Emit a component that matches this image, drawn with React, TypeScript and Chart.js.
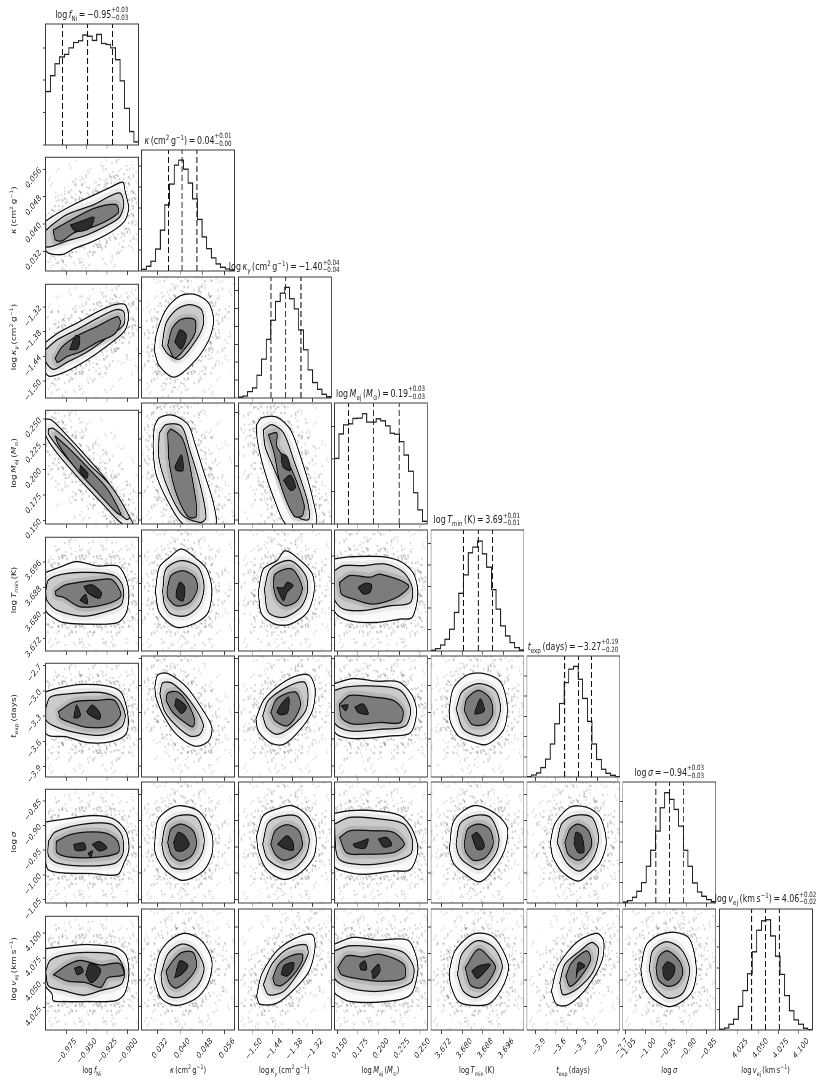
import React, { useEffect, useRef } from "react";
import { Chart, registerables } from "chart.js";
Chart.register(...registerables);

// horizontal squeeze of the whole figure
const SX = 0.7615;
const FONT = '"DejaVu Sans", sans-serif';

const axisMin = [-1.0003, 0.0263, -1.541, 0.1463, 3.6681, -4.022, -1.0567, 4.0026];
const axisMax = [-0.8863, 0.0595, -1.265, 0.2586, 3.7037, -2.671, -0.8267, 4.117];
const tickValues = [
  [-0.975, -0.95, -0.925, -0.9],
  [0.032, 0.04, 0.048, 0.056],
  [-1.5, -1.44, -1.38, -1.32],
  [0.15, 0.175, 0.2, 0.225, 0.25],
  [3.672, 3.68, 3.688, 3.696],
  [-3.9, -3.6, -3.3, -3.0, -2.7],
  [-1.05, -1.0, -0.95, -0.9, -0.85],
  [4.025, 4.05, 4.075, 4.1],
];
const tickDecimals = [3, 3, 2, 3, 3, 1, 2, 3];

// histogram counts per bin (20 bins each)
const histFNi = [1650, 2140, 2510, 2720, 2800, 3000, 3165, 3220, 3395, 3360, 3230, 3415, 3135, 3105, 3000, 2635, 1980, 1130, 415, 95];
const histKappa = [40, 112, 232, 521, 970, 1570, 2066, 2516, 2636, 2420, 2090, 1715, 1225, 810, 530, 312, 168, 88, 48, 24];
const histKappaG = [28, 56, 178, 281, 637, 1087, 1640, 2174, 2699, 2933, 3092, 2774, 2492, 1902, 1349, 787, 431, 243, 103, 37];
const histMej = [2016, 2771, 3050, 3082, 3247, 3257, 3392, 3133, 3133, 3236, 3174, 3019, 2792, 2761, 2533, 2120, 1623, 962, 434, 83];
const histTmin = [16, 55, 140, 273, 507, 897, 1342, 1771, 2285, 2418, 2558, 2262, 1950, 1427, 975, 585, 351, 195, 78, 23];
const histTexp = [8, 50, 100, 233, 441, 816, 1316, 1816, 2332, 2666, 2732, 2416, 1941, 1374, 816, 433, 191, 91, 42, 8];
const histSigma = [25, 58, 140, 289, 503, 908, 1303, 1774, 2351, 2723, 2558, 2310, 1898, 1303, 908, 495, 272, 165, 83, 33];
const histVej = [16, 49, 138, 260, 570, 952, 1359, 1888, 2409, 2637, 2662, 2271, 1783, 1343, 830, 464, 244, 138, 41, 8];
const hists = [histFNi, histKappa, histKappaG, histMej, histTmin, histTexp, histSigma, histVej];
const histTop = [3737, 2876, 3383, 3722, 2816, 2990, 2987, 2922];
const quantiles = [
  [-0.9796, -0.9488, -0.9184],
  [0.03588, 0.04073, 0.04606],
  [-1.444, -1.4, -1.355],
  [0.1635, 0.1934, 0.2246],
  [3.6805, 3.6862, 3.6917],
  [-3.473, -3.272, -3.083],
  [-0.975, -0.941, -0.9075],
  [4.0421, 4.059, 4.076],
];

// contour outlines, flat x,y lists: [outer, middle, inner, dense islands...]
const c10 = [
  [-1.0003,.0409,-.9866,.043,-.9659,.0457,-.941,.0485,-.9202,.0508,-.9057,.0522,-.9028,.0495,-.8986,.0448,-.9028,.0411,-.9161,.0383,-.941,.0351,-.9659,.0328,-.9804,.0311,-1.0003,.0323],
  [-1.0003,.0381,-.9928,.0397,-.9742,.0428,-.941,.0457,-.9202,.0483,-.9086,.049,-.9045,.0457,-.9098,.042,-.9244,.0397,-.9493,.0369,-.9742,.0351,-1.0003,.0334],
  [-.9908,.0383,-.97,.0411,-.941,.0446,-.914,.0457,-.9111,.0434,-.9244,.0411,-.941,.0393,-.9659,.0374,-.9804,.0351,-.9887,.0355],
  [-.97,.0397,-.9534,.0411,-.941,.042,-.946,.0388,-.9638,.0379],
];
const c20 = [
  [-1.0003,-1.4056,-.9845,-1.3823,-.9617,-1.359,-.9368,-1.3319,-.9161,-1.3148,-.9028,-1.3148,-.8986,-1.3435,-.9036,-1.3784,-.9244,-1.4134,-.9493,-1.4483,-.9742,-1.4754,-.9949,-1.4886,-1.0003,-1.4793],
  [-1.0003,-1.4235,-.9866,-1.4002,-.9617,-1.3746,-.9368,-1.3474,-.914,-1.3265,-.9045,-1.3319,-.9045,-1.3629,-.9244,-1.394,-.9493,-1.4289,-.9742,-1.4545,-.9908,-1.4716,-1.0003,-1.4522],
  [-.9887,-1.4444,-.9804,-1.4172,-.9617,-1.3901,-.9368,-1.3668,-.9119,-1.3435,-.9086,-1.359,-.9161,-1.3862,-.9368,-1.4056,-.9576,-1.4289,-.9742,-1.4405,-.9858,-1.4545],
  [-.9709,-1.4235,-.9638,-1.3901,-.9584,-1.394,-.9609,-1.4211],
];
const c30 = [
  [-1.0003,.2501,-.9928,.2488,-.9742,.2338,-.9493,.2119,-.9244,.1884,-.9119,.1712,-.8932,.1462,-.9057,.1462,-.9327,.1681,-.9617,.1931,-.9866,.2166,-1.0003,.2338],
  [-.997,.2401,-.9908,.2407,-.9721,.2275,-.9472,.2056,-.9202,.1837,-.8974,.153,-.9016,.1509,-.9285,.1712,-.9576,.1962,-.9845,.2213,-.997,.2354],
  [-.9887,.2332,-.9742,.2228,-.9493,.2025,-.9244,.1806,-.9078,.1556,-.914,.1581,-.9368,.1775,-.9617,.1994,-.9845,.2244],
  [-.9576,.2041,-.9484,.1962,-.9501,.1915,-.9584,.1987],
];
const c21 = [
  [.0308,-1.4328,.0316,-1.394,.035,-1.3396,.0399,-1.3086,.0453,-1.3047,.0502,-1.3241,.052,-1.3629,.0505,-1.4056,.0459,-1.4522,.0381,-1.4933,.0326,-1.4677],
  [.0336,-1.4211,.035,-1.3707,.0387,-1.3396,.0435,-1.328,.0477,-1.3396,.0483,-1.3746,.0453,-1.4134,.0399,-1.4522,.0356,-1.4405],
  [.0356,-1.4211,.0372,-1.3823,.0405,-1.3614,.0453,-1.3629,.0453,-1.394,.0417,-1.4289,.0381,-1.4498],
  [.0381,-1.4134,.0399,-1.3862,.0423,-1.3979,.0405,-1.4289],
];
const c31 = [
  [.0308,.2369,.0326,.2448,.0374,.2473,.0429,.2385,.0453,.2213,.0483,.1962,.052,.1649,.0526,.1455,.0417,.1455,.0362,.1649,.0314,.1931,.0304,.2182],
  [.0326,.2307,.035,.2385,.0405,.2369,.0435,.215,.0471,.1837,.0493,.1524,.0471,.1477,.0405,.1556,.035,.1837,.0324,.2088],
  [.0356,.2307,.0368,.2344,.0411,.2244,.0447,.1837,.0459,.154,.0429,.153,.0387,.1743,.0362,.2025],
  [.0381,.1994,.0405,.2103,.0411,.1962,.0387,.1962],
];
const c32 = [
  [-1.4869,.2385,-1.4719,.2448,-1.4266,.2454,-1.3864,.2338,-1.3563,.2088,-1.3211,.1712,-1.3111,.1455,-1.3965,.1455,-1.4367,.1712,-1.4668,.1994,-1.4849,.2244],
  [-1.4668,.2338,-1.4417,.2385,-1.4065,.2307,-1.3764,.2056,-1.3362,.1681,-1.3312,.1509,-1.3613,.1524,-1.4015,.1743,-1.4417,.2025,-1.4618,.2182],
  [-1.4518,.2291,-1.4266,.2307,-1.4266,.2182,-1.3864,.1994,-1.3462,.1649,-1.3513,.154,-1.3764,.154,-1.4166,.1837,-1.4347,.2119],
  [-1.4146,.2119,-1.3964,.2088,-1.3864,.1962,-1.4085,.1994],
  [-1.4065,.1869,-1.3864,.1915,-1.3713,.1806,-1.3864,.1775],
];
const c40 = [
  [-1.0003,3.6927,-.9825,3.6944,-.9626,3.6961,-.9368,3.6947,-.9119,3.6947,-.9016,3.6907,-.8982,3.6858,-.9016,3.68,-.9119,3.677,-.9451,3.6765,-.9783,3.677,-.9908,3.6785,-1.0003,3.6809],
  [-1.0003,3.6868,-.997,3.6903,-.9783,3.6922,-.9451,3.6927,-.9161,3.6917,-.9057,3.6883,-.9069,3.6829,-.9202,3.6809,-.9534,3.679,-.9866,3.6809,-.9988,3.6839],
  [-.9887,3.6868,-.9762,3.6888,-.9368,3.6903,-.9182,3.6903,-.9078,3.6854,-.9244,3.6829,-.9576,3.6819,-.9783,3.6849,-.9874,3.6855],
  [-.9534,3.6883,-.943,3.6888,-.9318,3.6863,-.9347,3.6846,-.9484,3.6863],
  [-.9584,3.684,-.9513,3.6858,-.9493,3.6829],
];
const c41 = [
  [.0312,3.6858,.0326,3.6927,.0362,3.6956,.0405,3.6981,.0459,3.6952,.0495,3.6922,.0514,3.6863,.0501,3.6795,.0459,3.6765,.0387,3.6751,.0326,3.6795],
  [.0338,3.6858,.035,3.6922,.0405,3.6947,.0465,3.6927,.0486,3.6873,.0471,3.6819,.0423,3.6785,.0368,3.679,.0344,3.6819],
  [.0354,3.6863,.0368,3.6903,.0411,3.6917,.0453,3.6898,.0462,3.6863,.0435,3.6824,.0387,3.6814,.0356,3.6839],
  [.0387,3.6858,.0399,3.6883,.0417,3.6868,.0411,3.6829,.0387,3.6839],
];
const c42 = [
  [-1.4819,3.6854,-1.4668,3.6922,-1.4266,3.6947,-1.4015,3.6976,-1.3563,3.6947,-1.3211,3.6907,-1.3161,3.6854,-1.3362,3.6795,-1.3864,3.676,-1.4317,3.676,-1.4719,3.679],
  [-1.4638,3.6863,-1.4467,3.6922,-1.3864,3.6947,-1.3412,3.6903,-1.3362,3.6854,-1.3563,3.6809,-1.4065,3.678,-1.4518,3.6795],
  [-1.4367,3.6868,-1.4317,3.6907,-1.3814,3.6922,-1.3513,3.6868,-1.3663,3.6829,-1.4015,3.6814,-1.4266,3.6834],
  [-1.4266,3.6868,-1.4065,3.6868,-1.3964,3.6883,-1.3784,3.6873,-1.3964,3.6854,-1.4065,3.6829,-1.4186,3.6849],
];
const c43 = [
  [.1465,3.6952,.1649,3.6958,.2057,3.6958,.2282,3.6942,.2424,3.6907,.2473,3.6849,.2404,3.678,.2261,3.6775,.1976,3.6765,.1649,3.677,.1465,3.68],
  [.1465,3.6917,.1568,3.6932,.1812,3.6932,.2078,3.6937,.2302,3.6912,.2404,3.6868,.2384,3.6824,.2139,3.6814,.1812,3.68,.1568,3.6805,.1465,3.6834],
  [.1527,3.6883,.1649,3.6903,.1894,3.6898,.2018,3.6907,.2363,3.6873,.222,3.6839,.1935,3.6819,.169,3.6834,.1547,3.6849],
  [.1751,3.6868,.1833,3.688,.1914,3.6876,.1894,3.6854,.1812,3.6849],
];
const c50 = [
  [-1.0003,-3.0097,-.9825,-2.9607,-.9576,-2.923,-.9244,-2.9419,-.9078,-3.0172,-.8995,-3.2812,-.9016,-3.5074,-.9202,-3.6016,-.9493,-3.6129,-.9742,-3.545,-1.0003,-3.4998],
  [-1.0003,-3.2057,-.9949,-3.0738,-.9742,-3.0361,-.9327,-3.0172,-.9119,-3.0927,-.9028,-3.2812,-.9078,-3.432,-.9327,-3.5262,-.9659,-3.4885,-.9908,-3.4131,-1.0003,-3.3377],
  [-.9845,-3.2434,-.9659,-3.1304,-.9368,-3.1115,-.9161,-3.1115,-.9086,-3.2812,-.9202,-3.4131,-.9493,-3.432,-.97,-3.3754,-.9825,-3.3188],
  [-.9659,-3.3188,-.9626,-3.168,-.9576,-3.2812,-.9609,-3.3188],
  [-.9501,-3.2434,-.943,-3.168,-.9327,-3.2812,-.9347,-3.3377,-.9472,-3.2812],
];
const c51 = [
  [.031,-3.0172,.032,-2.8853,.0356,-2.8665,.0423,-3.0172,.0483,-3.2812,.0514,-3.4696,.0502,-3.6204,.0453,-3.677,.0387,-3.545,.0338,-3.3188,.0314,-3.1304],
  [.0328,-3.0927,.0338,-2.9721,.0374,-2.9796,.0435,-3.1681,.0483,-3.432,.0471,-3.545,.0435,-3.5639,.0381,-3.432,.0344,-3.2812],
  [.035,-3.1681,.0356,-3.0851,.0393,-3.0738,.0429,-3.2057,.0453,-3.3943,.0445,-3.4621,.0417,-3.4131,.0374,-3.3],
  [.0381,-3.2246,.0387,-3.1492,.0423,-3.2434,.0405,-3.3113],
];
const c52 = [
  [-1.4889,-3.3754,-1.4668,-3.1681,-1.4266,-3.0172,-1.3764,-2.9042,-1.3312,-2.8853,-1.3131,-3.0361,-1.3211,-3.2812,-1.3563,-3.4885,-1.4065,-3.6582,-1.4467,-3.6393,-1.4819,-3.5074],
  [-1.4688,-3.3377,-1.4518,-3.1681,-1.3965,-3.0172,-1.3462,-2.9607,-1.3342,-3.0738,-1.3412,-3.2812,-1.3864,-3.4696,-1.4266,-3.545,-1.4568,-3.4696],
  [-1.4447,-3.3,-1.4266,-3.1492,-1.3714,-3.0738,-1.3563,-3.2057,-1.3714,-3.3565,-1.3965,-3.4508,-1.4317,-3.3943],
  [-1.4266,-3.3,-1.4166,-3.2246,-1.3915,-3.1304,-1.3945,-3.3,-1.4166,-3.3264],
];
const c53 = [
  [.1465,-2.9796,.169,-2.923,.1976,-2.9532,.2241,-2.9607,.2404,-3.1115,.2457,-3.3,.2384,-3.5262,.2139,-3.5639,.1731,-3.594,.1527,-3.5639,.1465,-3.5074],
  [.1465,-3.055,.1608,-3.0172,.1935,-3.006,.2261,-3.055,.2384,-3.2623,.2322,-3.4508,.2016,-3.4885,.1649,-3.5074,.1465,-3.4131],
  [.1527,-3.2058,.1649,-3.1115,.1935,-3.1304,.218,-3.168,.2294,-3.2812,.2261,-3.4131,.2016,-3.4131,.169,-3.432,.1547,-3.3566],
  [.171,-3.2434,.1812,-3.2057,.1873,-3.3188,.1751,-3.3],
  [.1547,-3.2246,.1629,-3.2171,.16,-3.2812],
];
const c54 = [
  [3.675,-3.2812,3.6766,-3.0361,3.6818,-2.8853,3.6883,-2.8665,3.6947,-2.9607,3.6973,-3.2246,3.696,-3.4885,3.6895,-3.6582,3.6831,-3.6205,3.6786,-3.5639,3.6756,-3.4131],
  [3.6777,-3.2623,3.6799,-3.0738,3.6863,-2.9796,3.6928,-3.055,3.6947,-3.2623,3.6921,-3.4885,3.687,-3.5639,3.6805,-3.4885],
  [3.6808,-3.2812,3.6818,-3.1492,3.6863,-3.055,3.6908,-3.1492,3.6917,-3.3188,3.6889,-3.432,3.6837,-3.432],
  [3.685,-3.2812,3.687,-3.1492,3.6885,-3.2812,3.685,-3.3188],
];
const c60 = [
  [-1.0003,-.8927,-.9742,-.8863,-.941,-.8799,-.9161,-.8876,-.9016,-.9131,-.8982,-.9481,-.9045,-.9768,-.9119,-.9991,-.9451,-.9971,-.9783,-.9959,-.997,-.9895,-1.0003,-.9704],
  [-.997,-.9322,-.9887,-.9131,-.9534,-.8971,-.9202,-.8971,-.9069,-.9194,-.9057,-.9576,-.9161,-.9768,-.9534,-.9819,-.9866,-.9755,-.997,-.9608],
  [-.9874,-.9322,-.9721,-.9194,-.9493,-.9131,-.9244,-.9163,-.9119,-.9322,-.9111,-.9545,-.9368,-.964,-.97,-.964,-.9866,-.9545],
  [-.9659,-.9385,-.9534,-.9353,-.9513,-.9481,-.9638,-.95],
  [-.943,-.9385,-.9347,-.9322,-.9252,-.9449,-.9347,-.9513],
  [-.9484,-.9564,-.943,-.9513,-.9451,-.964],
];
const c61 = [
  [.0308,-.9545,.032,-.9003,.0362,-.878,.0405,-.8717,.0471,-.8844,.0514,-.9258,.0514,-.964,.0483,-.9959,.0411,-1.0137,.035,-.9959,.032,-.9736],
  [.0335,-.9449,.035,-.9067,.0393,-.8908,.0459,-.8939,.0486,-.9322,.0477,-.964,.0435,-.9895,.0374,-.9895,.0344,-.9672],
  [.0356,-.9417,.0368,-.9163,.0405,-.9067,.0447,-.9194,.0459,-.9449,.0441,-.9672,.0399,-.9768,.0368,-.964],
  [.0377,-.9417,.0393,-.9226,.0417,-.929,.0433,-.9462,.0409,-.9576,.0385,-.9564],
];
const c62 = [
  [-1.4869,-.929,-1.4668,-.8908,-1.4266,-.878,-1.3814,-.8717,-1.3362,-.8908,-1.3111,-.9258,-1.3161,-.9672,-1.3563,-.9991,-1.4065,-1.0118,-1.4568,-.9927,-1.4819,-.9576],
  [-1.4688,-.9449,-1.4518,-.9035,-1.4065,-.8908,-1.3613,-.8939,-1.3312,-.9322,-1.3412,-.9672,-1.3814,-.9927,-1.4266,-.9863,-1.4568,-.9704],
  [-1.4447,-.9449,-1.4317,-.9194,-1.3965,-.908,-1.3613,-.9194,-1.3513,-.9481,-1.3714,-.9672,-1.4065,-.9755,-1.4317,-.964],
  [-1.4246,-.9449,-1.3965,-.929,-1.3784,-.9417,-1.3784,-.9564,-1.4065,-.9525],
];
const c63 = [
  [.1465,-.8863,.1649,-.8812,.1935,-.8812,.2261,-.8908,.2404,-.9163,.2473,-.9545,.2384,-.9927,.218,-.9959,.1812,-1.0022,.1568,-.9959,.1465,-.9863],
  [.1465,-.9067,.1649,-.8939,.2016,-.8971,.2302,-.9067,.2404,-.9353,.2384,-.964,.2098,-.9799,.1731,-.9831,.1506,-.9704],
  [.1527,-.9322,.1649,-.9194,.1935,-.9194,.218,-.9226,.231,-.9449,.218,-.9608,.1812,-.964,.1608,-.9608],
  [.169,-.9449,.1812,-.9385,.1873,-.9353,.1833,-.9525,.171,-.95],
  [.1996,-.9353,.2098,-.9322,.2159,-.9462,.2057,-.95],
];
const c64 = [
  [3.6751,-.9545,3.6769,-.9003,3.6844,-.8717,3.6921,-.8844,3.6973,-.9131,3.6966,-.9513,3.6934,-.9831,3.687,-1.0162,3.6805,-.9991,3.6766,-.9799],
  [3.6777,-.9449,3.6792,-.9067,3.6844,-.8908,3.6908,-.8939,3.6941,-.9322,3.6928,-.964,3.687,-.9927,3.6812,-.9799,3.6786,-.964],
  [3.6808,-.9449,3.6821,-.9163,3.6863,-.9067,3.6906,-.9163,3.6919,-.9449,3.6889,-.9704,3.6844,-.9755,3.6815,-.9608],
  [3.6837,-.929,3.6857,-.9226,3.6883,-.9417,3.6883,-.9525,3.6857,-.9545],
];
const c65 = [
  [-3.6822,-.9417,-3.6185,-.9067,-3.398,-.8748,-3.153,-.8748,-2.957,-.8939,-2.8688,-.9417,-2.957,-.9799,-3.104,-.9991,-3.2755,-1.015,-3.496,-.9991,-3.643,-.9704],
  [-3.5842,-.9417,-3.5205,-.9067,-3.349,-.8908,-3.0795,-.8939,-2.9815,-.9322,-3.055,-.9704,-3.251,-.9959,-3.447,-.9799],
  [-3.4715,-.9417,-3.398,-.9163,-3.2755,-.9067,-3.1285,-.9194,-3.0795,-.9449,-3.153,-.964,-3.2755,-.9755,-3.4225,-.964],
  [-3.3392,-.9449,-3.3098,-.9226,-3.2265,-.929,-3.1922,-.9589,-3.2755,-.9608],
];
const c70 = [
  [-1.0003,4.0845,-.9742,4.087,-.9493,4.0886,-.914,4.0854,-.9016,4.0774,-.8982,4.0583,-.9036,4.0392,-.914,4.0321,-.9493,4.0312,-.9783,4.0312,-.9908,4.0321,-.9928,4.0392,-1.0003,4.0471],
  [-1.0003,4.0615,-.9949,4.0726,-.9742,4.079,-.941,4.0806,-.914,4.0774,-.9036,4.0615,-.9078,4.0487,-.9327,4.0423,-.9534,4.0376,-.9783,4.0423,-.997,4.0471],
  [-.9908,4.0583,-.9742,4.0679,-.9576,4.0726,-.9327,4.0679,-.9098,4.0695,-.9045,4.0583,-.9244,4.0551,-.9327,4.0455,-.9513,4.0503,-.9742,4.0519],
  [-.965,4.0647,-.9576,4.0663,-.9543,4.0615,-.9617,4.0583],
  [-.9513,4.0583,-.9459,4.0695,-.9327,4.0631,-.9368,4.0551,-.9451,4.0503],
];
const c71 = [
  [.0308,4.0519,.0326,4.0742,.0362,4.087,.0417,4.094,.0477,4.087,.0514,4.0679,.0501,4.0471,.0459,4.0328,.0387,4.0258,.0332,4.0328],
  [.0332,4.0551,.0356,4.0742,.0405,4.0838,.0453,4.079,.0486,4.0615,.0465,4.0455,.0411,4.0344,.0362,4.0344,.0338,4.0439],
  [.035,4.0583,.0374,4.0679,.0405,4.0758,.0447,4.0758,.0459,4.0631,.0435,4.0519,.0387,4.0423,.0362,4.0471],
  [.0381,4.0519,.0399,4.0679,.0429,4.0631,.0405,4.0551],
];
const c72 = [
  [-1.4869,4.0344,-1.4719,4.0551,-1.4266,4.0774,-1.3663,4.0902,-1.3211,4.0927,-1.3131,4.0806,-1.3312,4.0583,-1.3764,4.0407,-1.4266,4.028,-1.4769,4.027],
  [-1.4668,4.0455,-1.4417,4.0647,-1.3965,4.079,-1.3412,4.0832,-1.3342,4.0742,-1.3663,4.0551,-1.4065,4.0392,-1.4518,4.036],
  [-1.4387,4.0519,-1.4216,4.0647,-1.3864,4.0726,-1.3513,4.0742,-1.3513,4.0679,-1.3764,4.0551,-1.4116,4.0449,-1.4317,4.0455],
  [-1.4136,4.0551,-1.4065,4.0631,-1.3764,4.0663,-1.3784,4.0599,-1.3965,4.0535],
];
const c73 = [
  [.1465,4.0838,.169,4.0902,.1976,4.0876,.2351,4.0876,.2445,4.0742,.2473,4.0583,.2384,4.036,.2098,4.0296,.1649,4.0296,.1486,4.036,.1465,4.0392],
  [.1465,4.0774,.1649,4.0822,.2016,4.0806,.2302,4.0758,.2424,4.0615,.2384,4.0471,.2016,4.0392,.1649,4.0423,.1465,4.0519],
  [.1506,4.0615,.1608,4.0726,.1812,4.0717,.2016,4.0742,.2302,4.0647,.231,4.0519,.2016,4.0487,.169,4.0519,.1547,4.0551],
  [.1771,4.0647,.1833,4.0679,.1853,4.0599,.178,4.0599],
  [.1914,4.0583,.1996,4.0647,.2016,4.0583,.1935,4.0513],
];
const c74 = [
  [3.6751,4.0583,3.6773,4.0774,3.6844,4.0934,3.6921,4.0902,3.6977,4.0647,3.696,4.0455,3.6908,4.028,3.6844,4.0258,3.6786,4.0296,3.6756,4.0455],
  [3.6782,4.0551,3.6799,4.0742,3.6857,4.087,3.6921,4.0806,3.6954,4.0631,3.6928,4.0471,3.6857,4.0334,3.6805,4.0392],
  [3.6812,4.0615,3.6863,4.079,3.6915,4.0679,3.6928,4.0615,3.6902,4.0487,3.687,4.0423,3.6831,4.0455],
  [3.6837,4.0583,3.6863,4.0631,3.6908,4.0647,3.6883,4.0567,3.6857,4.0513],
];
const c75 = [
  [-3.6675,4.0392,-3.5695,4.0631,-3.3,4.0854,-3.006,4.094,-2.908,4.087,-2.9325,4.0679,-3.153,4.0423,-3.4225,4.0264,-3.594,4.027],
  [-3.545,4.0471,-3.4715,4.0647,-3.251,4.0774,-3.0795,4.0854,-2.9815,4.079,-3.055,4.0583,-3.2755,4.0423,-3.496,4.036],
  [-3.4568,4.0535,-3.3735,4.0663,-3.153,4.0774,-3.0942,4.0695,-3.251,4.0519,-3.398,4.0439],
  [-3.3098,4.0519,-3.2755,4.0663,-3.1775,4.0631,-3.2755,4.0583],
];
const c76 = [
  [-1.0125,4.0599,-1.0,4.0822,-.9708,4.0918,-.9292,4.095,-.8917,4.0886,-.875,4.0599,-.8875,4.0376,-.9375,4.0248,-.9792,4.0312,-1.0042,4.0439],
  [-.9917,4.0599,-.9833,4.0774,-.95,4.086,-.9125,4.079,-.8917,4.0599,-.9083,4.0376,-.9458,4.0328,-.9792,4.0439],
  [-.975,4.0615,-.9667,4.0726,-.9458,4.0774,-.9167,4.0679,-.9083,4.0567,-.9208,4.0471,-.9458,4.0439,-.9692,4.0503],
  [-.9583,4.0615,-.9475,4.0669,-.9292,4.0631,-.9308,4.0551,-.9458,4.0497,-.9558,4.0535],
];
const contours: Record<string, number[][]> = {
  "1-0": c10, "2-0": c20, "3-0": c30, "2-1": c21, "3-1": c31, "3-2": c32,
  "4-0": c40, "4-1": c41, "4-2": c42, "4-3": c43,
  "5-0": c50, "5-1": c51, "5-2": c52, "5-3": c53, "5-4": c54,
  "6-0": c60, "6-1": c61, "6-2": c62, "6-3": c63, "6-4": c64, "6-5": c65,
  "7-0": c70, "7-1": c71, "7-2": c72, "7-3": c73, "7-4": c74, "7-5": c75, "7-6": c76,
};

// hand-placed speckle tiles for the haze around each cloud (style only, repeated as a stroke pattern)
const speckleWide = [3,7, 21,2, 40,12, 66,5, 82,18, 12,30, 33,38, 55,27, 74,41, 88,33, 6,52, 25,60, 47,49, 63,62, 80,56, 15,76, 37,83, 58,74, 70,86, 86,72];
const speckleMid = [4,4, 18,12, 34,3, 52,9, 63,20, 9,25, 27,29, 44,22, 58,35, 12,44, 31,47, 49,41, 66,50, 5,60, 22,63, 40,58, 56,66];
const speckleNear = [2,5, 11,14, 24,3, 38,10, 47,18, 6,26, 19,22, 31,29, 43,33, 14,38, 26,43, 37,47, 49,42, 4,48, 20,50];

const tileCache: Record<number, CanvasPattern | string> = {};
function speckle(size: number, dots: number[], alpha: number) {
  if (tileCache[size]) return tileCache[size];
  const t = document.createElement("canvas");
  t.width = size;
  t.height = size;
  const g = t.getContext("2d") as CanvasRenderingContext2D;
  g.fillStyle = `rgba(50,50,50,${alpha})`;
  for (let i = 0; i < dots.length; i += 2) g.fillRect(dots[i] % size, dots[i + 1] % size, 2, 2);
  tileCache[size] = g.createPattern(t, "repeat") as CanvasPattern;
  return tileCache[size];
}

const PANEL_W = 121;
const PANEL_H = 120;
const STEP = 126.4;
const LEFT0 = 60;
const TOP0 = 24;

const pairs = (flat: number[]) => {
  const pts: { x: number; y: number }[] = [];
  for (let i = 0; i < flat.length; i += 2) pts.push({ x: flat[i], y: flat[i + 1] });
  pts.push({ x: flat[0], y: flat[1] });
  return pts;
};

const shape = (flat: number[], fill: string, line: string, width: number) => ({
  type: "scatter" as const,
  data: pairs(flat),
  showLine: true,
  fill: "shape",
  backgroundColor: fill,
  borderColor: line,
  borderWidth: width,
  borderCapStyle: "round" as const,
  pointRadius: 0,
  tension: 0.3,
  clip: 0,
});

const stroke = (flat: number[], width: number, color: any) => ({
  type: "scatter" as const,
  data: pairs(flat),
  showLine: true,
  fill: false,
  borderColor: color,
  borderWidth: width,
  borderJoinStyle: "round" as const,
  borderCapStyle: "round" as const,
  pointRadius: 0,
  tension: 0.3,
  clip: 0,
});

const frame = {
  id: "frame",
  afterDraw(chart: any) {
    const { ctx, chartArea: a } = chart;
    ctx.save();
    ctx.strokeStyle = "#3a3a3a";
    ctx.lineWidth = 1;
    ctx.strokeRect(a.left, a.top, a.right - a.left, a.bottom - a.top);
    ctx.restore();
  },
};

function fmt(v: number, d: number) {
  return v.toFixed(d).replace("-", "\u2212");
}

function Panel({ r, c }: { r: number; c: number }) {
  const ref = useRef<HTMLCanvasElement>(null);
  const leftM = c === 0 || r === 7 ? 50 : 6;
  const bottomM = r === 7 ? 50 : c === 0 ? 32 : 6;
  const rightM = r === 7 ? 19 : 1;
  const W = PANEL_W + leftM + 1 + rightM;
  const H = PANEL_H + bottomM + 2;
  useEffect(() => {
    const diag = r === c;
    const datasets: any[] = [];
    if (diag) {
      const counts = hists[c];
      const w = (axisMax[c] - axisMin[c]) / counts.length;
      quantiles[c].forEach((q) =>
        datasets.push({
          type: "scatter",
          data: [{ x: q, y: 0 }, { x: q, y: histTop[c] }],
          showLine: true,
          borderColor: "#111",
          borderWidth: 1.3,
          borderDash: [6, 3],
          pointRadius: 0,
          clip: 0,
        })
      );
      const pts = counts.map((y, i) => ({ x: axisMin[c] + i * w, y }));
      pts.push({ x: axisMax[c], y: 0 });
      datasets.push({
        type: "scatter",
        data: pts,
        showLine: true,
        stepped: true,
        borderColor: "#222",
        borderWidth: 1.3,
        pointRadius: 0,
        fill: false,
        clip: 0,
      });
    } else {
      const [outer, mid, inner, ...cores] = contours[`${r}-${c}`];
      cores.forEach((k) => datasets.push(shape(k, "#2c2c2c", "#111", 1.1)));
      datasets.push(shape(inner, "#7c7c7c", "#111", 1.3));
      datasets.push(stroke(inner, 9, "rgba(60,60,60,0.14)"));
      datasets.push(shape(mid, "#cbcbcb", "#111", 1.3));
      datasets.push(stroke(mid, 9, "rgba(60,60,60,0.08)"));
      datasets.push(shape(outer, "#fafafa", "#111", 1.3));
      datasets.push(stroke(outer, 22, speckle(23, speckleNear, 0.3)));
      datasets.push(stroke(outer, 48, speckle(31, speckleMid, 0.22)));
      datasets.push(stroke(outer, 84, speckle(41, speckleWide, 0.16)));
    }
    const histTicks: number[] = [];
    if (diag) {
      const stepCount = c === 0 || c === 3 ? 1000 : 500;
      for (let v = stepCount; v < histTop[c]; v += stepCount) histTicks.push(v);
      histTicks.unshift(0);
    }
    const chart = new Chart(ref.current as HTMLCanvasElement, {
      type: "scatter",
      data: { datasets },
      plugins: [frame],
      options: {
        animation: false,
        responsive: false,
        devicePixelRatio: 2,
        layout: { autoPadding: false, padding: { top: 1, right: rightM, left: 0, bottom: 0 } },
        plugins: { legend: { display: false }, tooltip: { enabled: false }, title: { display: false } },
        scales: {
          x: {
            type: "linear",
            min: axisMin[c],
            max: axisMax[c],
            afterBuildTicks: (s: any) => {
              s.ticks = tickValues[c].map((value) => ({ value }));
            },
            afterFit: (s: any) => {
              s.height = bottomM;
            },
            grid: { drawOnChartArea: false, drawTicks: true, tickLength: 4, tickColor: "#444", tickWidth: 1 },
            border: { display: false },
            ticks: {
              display: r === 7,
              autoSkip: false,
              minRotation: 45,
              maxRotation: 45,
              padding: 2,
              labelOffset: 12,
              color: "#333",
              font: { family: FONT, size: 8.8 },
              callback: (v: any) => fmt(Number(v), tickDecimals[c]),
            },
          },
          y: {
            type: "linear",
            min: diag ? 0 : axisMin[r],
            max: diag ? histTop[c] : axisMax[r],
            afterBuildTicks: (s: any) => {
              s.ticks = (diag ? histTicks : tickValues[r]).map((value) => ({ value }));
            },
            afterFit: (s: any) => {
              s.width = leftM;
            },
            grid: { drawOnChartArea: false, drawTicks: true, tickLength: 4, tickColor: "#444", tickWidth: 1 },
            border: { display: false },
            ticks: {
              display: c === 0 && !diag,
              autoSkip: false,
              minRotation: 45,
              maxRotation: 45,
              padding: 3,
              color: "#333",
              font: { family: FONT, size: 8.8 },
              callback: (v: any) => fmt(Number(v), tickDecimals[r]),
            },
          },
        },
      },
    } as any);
    return () => chart.destroy();
  }, [r, c]);
  return (
    <canvas
      ref={ref}
      width={W}
      height={H}
      style={{
        position: "absolute",
        left: LEFT0 + c * STEP - leftM,
        top: TOP0 + r * STEP - 1,
        width: W,
        height: H,
      }}
    />
  );
}

const S = (t: React.ReactNode) => <sub style={{ fontSize: "0.7em", lineHeight: 0 }}>{t}</sub>;
const P = (t: React.ReactNode) => <sup style={{ fontSize: "0.7em", lineHeight: 0 }}>{t}</sup>;
const labels: React.ReactNode[] = [
  <>log{"\u2009"}<i>f</i>{S("Ni")}</>,
  <><i>κ</i>{"\u2009"}(cm{P("2")}{"\u2009"}g{P("−1")})</>,
  <>log{"\u2009"}<i>κ</i>{S(<i>γ</i>)}{"\u2009"}(cm{P("2")}{"\u2009"}g{P("−1")})</>,
  <>log{"\u2009"}<i>M</i>{S("ej")}{"\u2009"}(<i>M</i>{S("⊙")})</>,
  <>log{"\u2009"}<i>T</i>{S("min")}{"\u2009"}(K)</>,
  <><i>t</i>{S("exp")}{"\u2009"}(days)</>,
  <>log{"\u2009"}<i>σ</i></>,
  <>log{"\u2009"}<i>v</i>{S("ej")}{"\u2009"}(km{"\u2009"}s{P("−1")})</>,
];
const medians = ["−0.95", "0.04", "−1.40", "0.19", "3.69", "−3.27", "−0.94", "4.06"];
const upper = ["+0.03", "+0.01", "+0.04", "+0.03", "+0.01", "+0.19", "+0.03", "+0.02"];
const lower = ["−0.03", "−0.00", "−0.04", "−0.03", "−0.01", "−0.20", "−0.03", "−0.02"];

const textStyle: React.CSSProperties = {
  position: "absolute",
  fontFamily: FONT,
  whiteSpace: "nowrap",
  color: "#222",
};

export default function App() {
  const cells: { r: number; c: number }[] = [];
  for (let r = 0; r < 8; r++) for (let c = 0; c <= r; c++) cells.push({ r, c });
  return (
    <div style={{ position: "absolute", left: 0, top: 0, width: 831, height: 1090, overflow: "hidden", background: "#fff" }}>
      <div style={{ position: "absolute", left: 0, top: 0, width: 1092, height: 1090, transform: `scaleX(${SX})`, transformOrigin: "0 0", filter: "blur(0.3px)" }}>
        {cells.map(({ r, c }) => (
          <Panel key={`${r}-${c}`} r={r} c={c} />
        ))}
        {labels.map((l, i) => (
          <div
            key={`t${i}`}
            style={{
              ...textStyle,
              fontSize: 10.4,
              left: LEFT0 + i * STEP + PANEL_W / 2,
              top: TOP0 + i * STEP - 3,
              transform: "translate(-50%,-100%)",
              display: "flex",
              alignItems: "center",
            }}
          >
            <span>{l}{"\u2009"}={"\u2009"}{medians[i]}</span>
            <span style={{ display: "inline-flex", flexDirection: "column", fontSize: 7.3, lineHeight: "7.5px" }}>
              <span>{upper[i]}</span>
              <span>{lower[i]}</span>
            </span>
          </div>
        ))}
        {labels.map((l, i) => (
          <div
            key={`x${i}`}
            style={{
              ...textStyle,
              fontSize: 8.8,
              left: LEFT0 + i * STEP + PANEL_W / 2,
              top: 1070,
              transform: "translate(-50%,-50%)",
            }}
          >
            {l}
          </div>
        ))}
        {labels.slice(1).map((l, i) => (
          <div
            key={`y${i}`}
            style={{
              ...textStyle,
              fontSize: 8.8,
              left: 18,
              top: TOP0 + (i + 1) * STEP + PANEL_H / 2,
              transform: "translate(-50%,-50%) rotate(-90deg)",
            }}
          >
            {l}
          </div>
        ))}
      </div>
    </div>
  );
}
